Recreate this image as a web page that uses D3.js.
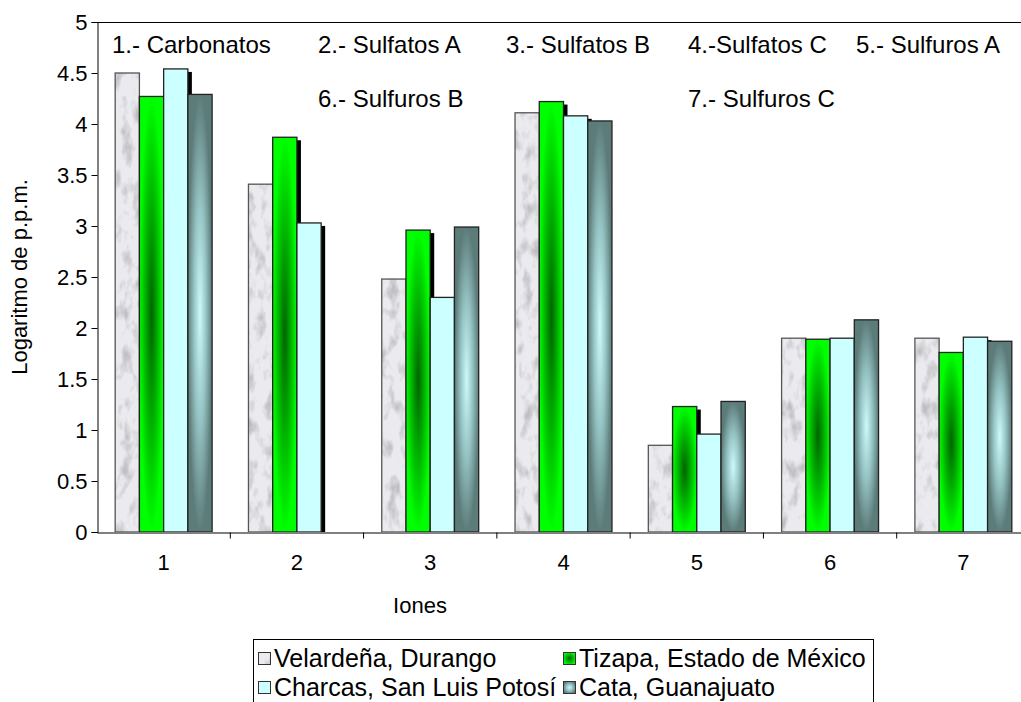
<!DOCTYPE html>
<html>
<head>
<meta charset="utf-8">
<script src="https://cdn.jsdelivr.net/npm/d3@7"></script>
<style>
  html, body { margin: 0; padding: 0; background: #fff; }
  svg { display: block; }
  svg text { font-family: "Liberation Sans", Arial, sans-serif; fill: #000; }
</style>
</head>
<body>
<svg id="chart" width="1021" height="702"></svg>
<script>
// Ion groups (x axis) and their descriptions
const categories = ["1", "2", "3", "4", "5", "6", "7"];
const ionNotes = [
  "1.- Carbonatos", "2.- Sulfatos A", "3.- Sulfatos B", "4.-Sulfatos C",
  "5.- Sulfuros A", "6.- Sulfuros B", "7.- Sulfuros C"
];

// Localities (series)
const seriesNames = [
  "Velardeña, Durango",
  "Tizapa, Estado de México",
  "Charcas, San Luis Potosí",
  "Cata, Guanajuato"
];

// Logarithm of concentration (ppm) per ion group
const velardena = [4.50, 3.41, 2.48, 4.11, 0.85, 1.90, 1.90];
const tizapa    = [4.27, 3.87, 2.96, 4.22, 1.23, 1.89, 1.76];
const charcas   = [4.54, 3.03, 2.30, 4.08, 0.96, 1.90, 1.91];
const cata      = [4.29, null, 2.99, 4.03, 1.28, 2.08, 1.87];

const yTicks = [0, 0.5, 1, 1.5, 2, 2.5, 3, 3.5, 4, 4.5, 5];

const seriesValues = [velardena, tizapa, charcas, cata];

const svg = d3.select("#chart");
const W = 1021, H = 702;
const plot = { left: 97, top: 22, right: 1030, bottom: 532 };
const AXIS_FONT = 22;
const NOTE_FONT = 24;
const LEGEND_FONT = 25;

const defs = svg.append("defs");

// Marble-like texture for Velardeña
const marble = defs.append("filter").attr("id", "marble")
  .attr("x", 0).attr("y", 0).attr("width", 1).attr("height", 1);
marble.append("feTurbulence").attr("type", "fractalNoise")
  .attr("baseFrequency", "0.09 0.05").attr("numOctaves", 3).attr("seed", 4).attr("result", "n");
marble.append("feColorMatrix").attr("in", "n").attr("type", "matrix")
  .attr("values", "0 0 0 0 0.52  0 0 0 0 0.52  0 0 0 0 0.55  3.0 0 0 0 -1.45")
  .attr("result", "s");
marble.append("feComposite").attr("in", "s").attr("in2", "SourceGraphic").attr("operator", "in");

// Center-out gradients
function centerGradient(id, stops) {
  const g = defs.append("radialGradient").attr("id", id)
    .attr("cx", "50%").attr("cy", "50%").attr("r", "50%");
  stops.forEach(([o, c]) => g.append("stop").attr("offset", o).attr("stop-color", c));
}
centerGradient("gTizapa", [[0, "#006400"], [0.45, "#00a800"], [1, "#00ff00"]]);
centerGradient("gCata", [[0, "#ccfafa"], [0.5, "#96c4c4"], [1, "#5c7c7a"]]);

const fills = ["#ebebef", "url(#gTizapa)", "#ccffff", "url(#gCata)"];
const hasShadow = [false, true, true, false];

defs.append("clipPath").attr("id", "plotClip").append("rect")
  .attr("x", plot.left).attr("y", plot.top)
  .attr("width", plot.right - plot.left).attr("height", plot.bottom - plot.top);

// Scales
const x0 = d3.scaleBand().domain(categories).range([plot.left, plot.right]).padding(0);
const groupW = x0.bandwidth() * 4 / 5.5;
const x1 = d3.scaleBand().domain(d3.range(4)).range([0, groupW]).padding(0);
const y = d3.scaleLinear().domain([0, 5]).range([plot.bottom, plot.top]);

// Bars
const barsG = svg.append("g").attr("clip-path", "url(#plotClip)");
seriesValues.forEach((vals, s) => {
  const data = vals.map((v, i) => ({ cat: categories[i], v })).filter(d => d.v != null);
  const g = barsG.append("g");
  const xPos = d => x0(d.cat) + (x0.bandwidth() - groupW) / 2 + x1(s);
  if (hasShadow[s]) {
    g.selectAll("rect.shadow").data(data).join("rect").attr("class", "shadow")
      .attr("x", d => xPos(d) + 4).attr("y", d => y(d.v) + 3)
      .attr("width", x1.bandwidth()).attr("height", d => y(0) - y(d.v))
      .attr("fill", "#000");
  }
  g.selectAll("rect.bar").data(data).join("rect").attr("class", "bar")
    .attr("x", xPos).attr("y", d => y(d.v))
    .attr("width", x1.bandwidth()).attr("height", d => y(0) - y(d.v))
    .attr("fill", fills[s]);
  if (s === 0) {
    g.selectAll("rect.tex").data(data).join("rect").attr("class", "tex")
      .attr("x", xPos).attr("y", d => y(d.v))
      .attr("width", x1.bandwidth()).attr("height", d => y(0) - y(d.v))
      .attr("fill", "#000").attr("filter", "url(#marble)");
  }
  g.selectAll("rect.edge").data(data).join("rect").attr("class", "edge")
    .attr("x", xPos).attr("y", d => y(d.v))
    .attr("width", x1.bandwidth()).attr("height", d => y(0) - y(d.v))
    .attr("fill", "none").attr("stroke", s === 0 ? "#555" : "#222").attr("stroke-width", 1.3);
});

// Plot frame (top edge)
svg.append("line").attr("x1", plot.left).attr("x2", W).attr("y1", plot.top + 0.5).attr("y2", plot.top + 0.5)
  .attr("stroke", "#000").attr("stroke-width", 1);

// Y axis
const yAxis = d3.axisLeft(y).tickValues(yTicks).tickSize(6).tickPadding(4)
  .tickFormat(d => String(d));
const yg = svg.append("g").attr("transform", `translate(${plot.left + 0.5},0)`).call(yAxis)
  .attr("font-family", null).attr("font-size", AXIS_FONT);
yg.select(".domain").attr("stroke", "#000");

// X axis
const xAxis = d3.axisBottom(x0).tickSize(0).tickPadding(22);
const xg = svg.append("g").attr("transform", `translate(0,${plot.bottom + 0.5})`).call(xAxis)
  .attr("font-family", null).attr("font-size", AXIS_FONT);
xg.select(".domain").attr("stroke", "#000");
// Category separator ticks
xg.selectAll("line.sep").data(categories.slice(1)).join("line").attr("class", "sep")
  .attr("x1", d => x0(d)).attr("x2", d => x0(d)).attr("y1", 0).attr("y2", 6)
  .attr("stroke", "#000");

// Axis titles
svg.append("text").attr("x", 420).attr("y", 613).attr("text-anchor", "middle")
  .attr("font-size", AXIS_FONT).text("Iones");
svg.append("text").attr("transform", "translate(27,277) rotate(-90)").attr("text-anchor", "middle")
  .attr("font-size", AXIS_FONT).text("Logaritmo de p.p.m.");

// Ion descriptions inside the plot
const notePos = [[112, 53], [318, 53], [506, 53], [688, 53], [856, 53], [318, 107], [688, 107]];
svg.append("g").selectAll("text").data(ionNotes).join("text")
  .attr("x", (d, i) => notePos[i][0]).attr("y", (d, i) => notePos[i][1])
  .attr("font-size", NOTE_FONT).text(d => d);

// Legend
const lg = svg.append("g");
lg.append("rect").attr("x", 253.5).attr("y", 639.5).attr("width", 620).attr("height", 90)
  .attr("fill", "#fff").attr("stroke", "#000");
const legPos = [[258, 658], [563, 658], [258, 687], [563, 687]];
seriesNames.forEach((name, s) => {
  const [lx, ly] = legPos[s];
  lg.append("rect").attr("x", lx).attr("y", ly - 6).attr("width", 13).attr("height", 13)
    .attr("fill", fills[s]);
  if (s === 0) {
    lg.append("rect").attr("x", lx).attr("y", ly - 6).attr("width", 13).attr("height", 13)
      .attr("fill", "#000").attr("filter", "url(#marble)");
  }
  lg.append("rect").attr("x", lx + 0.5).attr("y", ly - 5.5).attr("width", 12).attr("height", 12)
    .attr("fill", "none").attr("stroke", "#333");
  lg.append("text").attr("x", lx + 16).attr("y", ly + 9).attr("font-size", LEGEND_FONT).text(name);
});
</script>
</body>
</html>
